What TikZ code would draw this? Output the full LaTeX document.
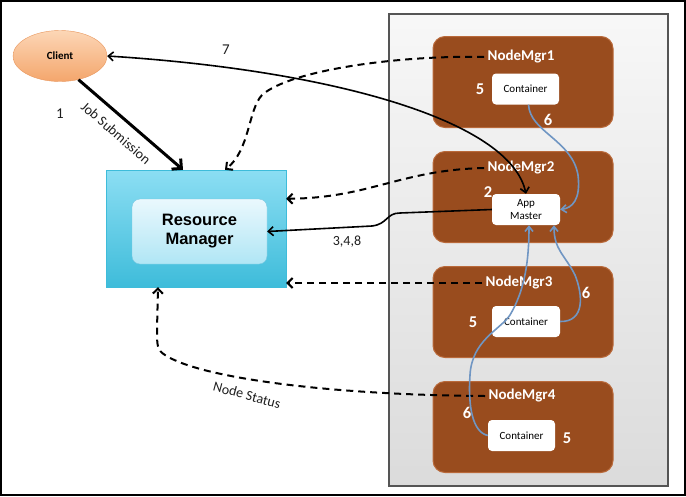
\documentclass[tikz,border=0pt]{standalone}
\usepackage{fontspec}
\setmainfont{Carlito}
\newfontfamily\arialfont{Liberation Sans}
\usepackage{tikz}
\usetikzlibrary{shapes.geometric, arrows.meta, positioning, calc}
\definecolor{nodebrown}{RGB}{153, 76, 30}
\definecolor{nodeedge}{RGB}{185, 105, 58}
\definecolor{clientlight}{RGB}{252, 214, 182}
\definecolor{clientdark}{RGB}{244, 166, 108}
\definecolor{clientedge}{RGB}{232, 150, 92}
\definecolor{rmlight}{RGB}{140, 222, 243}
\definecolor{rmdark}{RGB}{62, 188, 218}
\definecolor{rminlight}{RGB}{234, 248, 253}
\definecolor{rmindark}{RGB}{176, 230, 245}
\definecolor{rminedge}{RGB}{120, 200, 225}
\definecolor{launchblue}{RGB}{112, 150, 195}
\definecolor{panelgray}{RGB}{85, 85, 85}
\definecolor{textgray}{RGB}{30, 30, 30}

\begin{document}
\begin{tikzpicture}[
  x=1pt, y=-1pt,
  mgr/.style={rectangle, rounded corners=12pt, fill=nodebrown, draw=nodeedge, line width=1pt,
              minimum width=180pt, minimum height=91pt},
  container/.style={rectangle, rounded corners=4pt, fill=white, minimum width=67pt, minimum height=31pt,
                    inner sep=1pt, align=center, font=\fontsize{11}{13}\selectfont},
  mgrlabel/.style={text=white, font=\bfseries\fontsize{15}{17}\selectfont},
  numlabel/.style={text=white, font=\bfseries\fontsize{16.5}{18}\selectfont},
  steplabel/.style={text=textgray, font=\fontsize{15}{17}\selectfont},
  statusline/.style={-{Straight Barb[length=5pt, width=10pt]}, line width=2pt, dash pattern=on 7pt off 5pt},
  msgline/.style={-{Straight Barb[length=5pt, width=9pt]}, line width=1.6pt},
  launch/.style={-{Straight Barb[length=5pt, width=8pt]}, line width=1.6pt, color=launchblue}
]
\useasboundingbox (0,0) rectangle (686,496);

% Frame and cluster panel
\draw[line width=2pt] (1,1) rectangle (685,495);
\draw[panelgray, line width=1.2pt, top color=gray!6, bottom color=gray!28] (389,14) rectangle (668,486);

% Client and resource manager
\node[ellipse, top color=clientlight, bottom color=clientdark, draw=clientedge, minimum width=94pt,
      minimum height=51pt, font=\bfseries\fontsize{11}{12}\selectfont] (client) at (60,56) {Client};
\node[rectangle, top color=rmlight, bottom color=rmdark, draw=rmdark, minimum width=180pt,
      minimum height=117pt] (rm) at (196,228.5) {};
\node[rectangle, rounded corners=8pt, top color=rminlight, bottom color=rmindark, draw=rminedge,
      minimum width=135pt, minimum height=65pt, align=center,
      font=\arialfont\bfseries\fontsize{16.5}{19}\selectfont] (rmin) at (199.5,231.5) {Resource\\Manager};

% Node managers
\node[mgr] (nm1) at (523,82) {};
\node[mgr, below=23pt of nm1] (nm2) {};
\node[mgr, below=23pt of nm2] (nm3) {};
\node[mgr, below=23pt of nm3] (nm4) {};

\node[mgrlabel] (nm1lab) at (521,57) {NodeMgr1};
\node[mgrlabel] (nm2lab) at (521,168) {NodeMgr2};
\node[mgrlabel] (nm3lab) at (519,283) {NodeMgr3};
\node[mgrlabel] (nm4lab) at (522,396) {NodeMgr4};

% Containers
\node[container] (c1) at (525.5,89) {Container};
\node[container, minimum width=68pt] (am) at (526,209.5) {App\\Master};
\node[container, minimum width=68pt] (c3) at (526,321.5) {Container};
\node[container] (c4) at (521.5,435.5) {Container};

% Step numbers
\node[numlabel] (n5a) at (480,89) {5};
\node[numlabel] (n6a) at (548,120) {6};
\node[numlabel] (n2) at (488,192) {2};
\node[numlabel] (n5b) at (473,322) {5};
\node[numlabel] (n6b) at (586,293) {6};
\node[numlabel] (n6c) at (467,413) {6};
\node[numlabel] (n5c) at (567,438) {5};

% Job submission and app master messages
\draw[-{Straight Barb[length=7pt, width=14pt]}, line width=3pt] (client.-52) -- ($(rm.north)+(-13,0)$);
\node[text=textgray, rotate=-41, font=\fontsize{14}{16}\selectfont] (jobsub) at (116,133) {Job Submission};
\node[steplabel] (one) at (60,114) {1};

\draw[msgline, {Straight Barb[length=5pt, width=9pt]}-{Straight Barb[length=5pt, width=9pt]}]
  (client.east) .. controls (330,70) and (510,120) .. (am.north);
\node[steplabel] (seven) at (226,50) {7};

\draw[msgline] (am.west) -- (400,213) .. controls (386,213) and (388,224) .. (372,226) -- (rmin.east);
\node[steplabel, font=\fontsize{14}{16}\selectfont] (rmsteps) at (347,242) {3,4,8};

% Node status heartbeats
\draw[statusline] (nm1lab.west) .. controls (400,55) and (290,70) .. (262,95)
  .. controls (248,110) and (250,150) .. ($(rm.north)+(29,0)$);
\draw[statusline] (nm2lab.west) .. controls (400,170) and (370,198) .. ($(rm.north east)+(0,29)$);
\draw[statusline] (nm3lab.west) -- (nm3lab.west -| rm.east);
\draw[statusline] (nm4lab.west) .. controls (330,395) and (200,378) .. (165,355)
  .. controls (157,350) and (157,345) .. (157,330) -- ($(rm.south)+(-38,0)$);
\node[text=textgray, rotate=-15, font=\fontsize{14}{16}\selectfont] (status) at (247,395) {Node Status};

% Container launches
\draw[launch] ($(c1.south)+(3,0)$) .. controls (530,132) and (572,140) .. (578,175)
  .. controls (581,200) and (572,208) .. (am.east);
\draw[launch] (c3.east) .. controls (585,322) and (583,295) .. (575,275)
  .. controls (565,255) and (554,250) .. ($(am.south)+(28,0)$);
\draw[launch] (c4.west) .. controls (472,432) and (468,405) .. (470,375)
  .. controls (472,340) and (500,330) .. (510,315)
  .. controls (525,290) and (529,260) .. ($(am.south)+(3,0)$);

\end{tikzpicture}
\end{document}
